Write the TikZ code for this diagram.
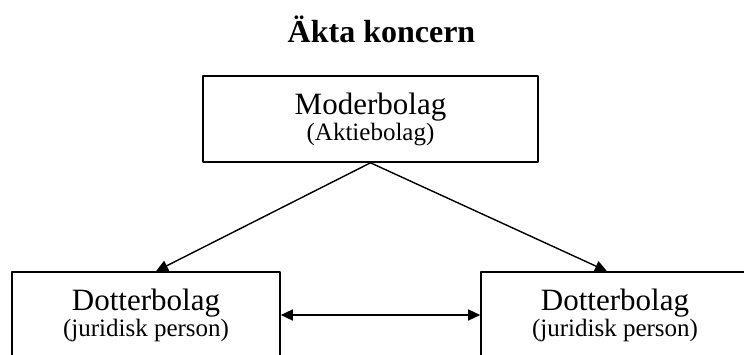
\documentclass[tikz,border=0pt]{standalone}
\usepackage{fontspec}
\setmainfont{Liberation Serif}
\usetikzlibrary{arrows.meta}

\begin{document}
\begin{tikzpicture}[x=1pt,y=1pt,line cap=round,line join=round,>={Triangle[length=12pt,width=11pt]},
  bolag/.style={draw,line width=1.6pt,minimum height=86pt,inner sep=0pt,align=center,font=\fontsize{31}{26}\selectfont},
  pil/.style={->,line width=1.4pt}]
  \useasboundingbox (0,0) rectangle (744,354);
  \clip (0,0) rectangle (744,354);
  \node[font=\bfseries\fontsize{32}{36}\selectfont,anchor=base] (titel) at (381.5,311) {Äkta koncern};
  \node[bolag,minimum width=335pt] (moder) at (370.5,235) {Moderbolag\\{\fontsize{25}{26}\selectfont(Aktiebolag)}};
  \node[bolag,minimum width=268pt] (dotter1) at (146,39) {Dotterbolag\\{\fontsize{25}{26}\selectfont(juridisk person)}};
  \node[bolag,minimum width=268pt] (dotter2) at (615,39) {Dotterbolag\\{\fontsize{25}{26}\selectfont(juridisk person)}};
  \draw[pil] (moder.south) -- ([xshift=10pt]dotter1.north);
  \draw[pil] (moder.south) -- ([xshift=-8pt]dotter2.north);
  \draw[pil,<->] (dotter1.east) -- (dotter2.west);
\end{tikzpicture}
\end{document}
